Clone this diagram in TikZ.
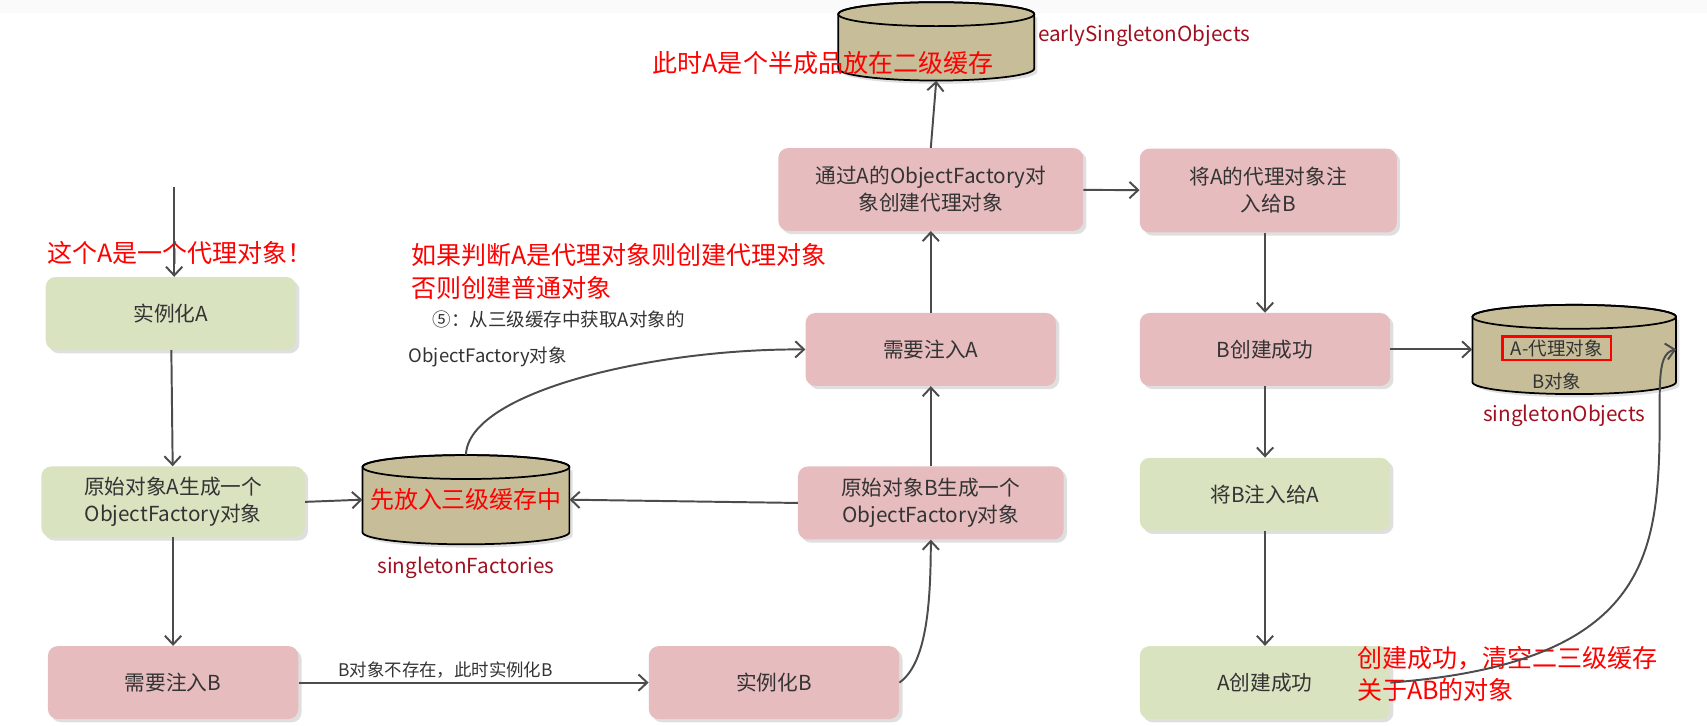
\documentclass[tikz,border=0pt]{standalone}
\usepackage{fontspec}
\setmainfont{Noto Sans CJK SC}
\usetikzlibrary{arrows.meta,shadows,calc}
\definecolor{gbox}{HTML}{D9E3C0}
\definecolor{pbox}{HTML}{E6BCBE}
\definecolor{cylc}{HTML}{C7BE99}
\definecolor{lbl}{HTML}{A01020}
\definecolor{txt}{HTML}{333333}
\tikzset{
 box/.style={rounded corners=9pt,minimum width=230pt,minimum height=67pt,align=center,font=\fontsize{19}{25}\selectfont,text=txt,
   drop shadow={opacity=0.25,shadow xshift=3pt,shadow yshift=-3pt}},
 gb/.style={box,fill=gbox},
 pb/.style={box,fill=pbox},
 arr/.style={draw=black!70,line width=1.8pt,-{Straight Barb[length=8pt,width=15pt]}},
 redt/.style={text=red,font=\fontsize{23}{30}\selectfont,anchor=west,align=left},
 lab/.style={text=lbl,font=\fontsize{19}{23}\selectfont}
}
\newcommand\mycyl[5]{%
 \pgfmathsetmacro\rx{#4/2}\pgfmathsetmacro\ry{11}%
 \pgfmathsetmacro\yt{#3+#5/2-\ry}\pgfmathsetmacro\yb{#3-#5/2+\ry}%
 \pgfmathsetmacro\xl{#2-\rx}\pgfmathsetmacro\xr{#2+\rx}%
 \fill[black!30,opacity=0.4] (\xl+3,\yt-3) -- (\xl+3,\yb-3) arc[start angle=180,end angle=360,x radius=\rx,y radius=\ry] -- (\xr+3,\yt-3) -- cycle;
 \draw[fill=cylc,line width=1.6pt] (\xl,\yt) -- (\xl,\yb) arc[start angle=180,end angle=360,x radius=\rx,y radius=\ry] -- (\xr,\yt) arc[start angle=0,end angle=180,x radius=\rx,y radius=\ry] -- cycle;
 \draw[line width=1.6pt] (#2,\yt) ellipse[x radius=\rx,y radius=\ry];
 \node[minimum width=#4 pt,minimum height=#5 pt,inner sep=0] (#1) at (#2,#3) {};
}
\begin{document}
\begin{tikzpicture}[x=1pt,y=1pt]
\useasboundingbox (0,0) rectangle (1568,-666);
\fill[black!2] (0,0) rectangle (1568,-12);
% boxes
\node[gb] (instA) at (157,-288) {实例化A};
\node[gb,minimum width=242pt,minimum height=65pt] (ofA) at (159,-461) {原始对象A生成一个\\ObjectFactory对象};
\node[pb] (needB) at (159,-627) {需要注入B};
\node[pb] (instB) at (711,-627) {实例化B};
\node[pb,minimum width=244pt] (ofB) at (855,-462) {原始对象B生成一个\\ObjectFactory对象};
\node[pb] (needA) at (855,-321) {需要注入A};
\node[pb,minimum width=280pt,minimum height=76pt] (viaA) at (855,-174) {通过A的ObjectFactory对\\象创建代理对象};
\node[pb,minimum width=236pt,minimum height=77pt] (injA) at (1165,-175) {将A的代理对象注\\入给B};
\node[pb] (Bok) at (1162,-321) {B创建成功};
\node[gb] (injB) at (1162,-454) {将B注入给A};
\node[gb] (Aok) at (1162,-627) {A创建成功};
% cylinders
\mycyl{sf}{428}{-459}{190}{82}
\mycyl{es}{860}{-38}{180}{72}
\mycyl{so}{1446}{-321}{187}{82}
\node[text=red,font=\fontsize{22}{26}\selectfont] at (sf) {先放入三级缓存中};
\node[lab,anchor=north] at (428,-508) {singletonFactories};
\node[lab,anchor=west] at (950,-33) {earlySingletonObjects};
\node[lab] at (1437,-382) {singletonObjects};
\node[font=\fontsize{17}{20}\selectfont,text=txt,draw=red,line width=2.2pt,inner sep=3pt,minimum width=100pt] (ap) at (1430,-320) {A-代理对象};
\node[font=\fontsize{17}{20}\selectfont,text=txt] at (1430,-350) {B对象};
\node[redt] at (596,-58) {此时A是个半成品放在二级缓存};
% texts
\node[redt] at (40,-232) {这个A是一个代理对象！};
\node[redt,anchor=north west] at (374,-220) {如果判断A是代理对象则创建代理对象\\否则创建普通对象};
\node[text=txt,font=\fontsize{17}{20}\selectfont,anchor=west] at (394,-293) {⑤：从三级缓存中获取A对象的};
\node[text=txt,font=\fontsize{17}{20}\selectfont,anchor=west] at (372,-328) {ObjectFactory对象};
\node[redt,anchor=north west] at (1243,-590) {创建成功，清空二三级缓存\\关于AB的对象};
% arrows
\coordinate (s0) at (160,-172);
\draw[arr] (s0) -- (instA.north -| s0);
\draw[arr] (instA) -- (ofA);
\draw[arr] (ofA) -- (needB);
\draw[arr] (ofA.east) -- (sf.west);
\draw[arr] (ofB.west) -- (sf.east);
\draw[arr] (needB) -- node[above,text=txt,font=\fontsize{16}{19}\selectfont,pos=0.42]{B对象不存在，此时实例化B} (instB);
\draw[arr] (instB.east) .. controls (850,-610) and (855,-560) .. (ofB.south);
\draw[arr] (ofB) -- (needA);
\draw[arr] (needA) -- (viaA);
\draw[arr] (viaA.north) -- (es.south);
\draw[arr] (viaA) -- (injA);
\draw[arr] (injA.south -| Bok) -- (Bok);
\draw[arr] (Bok) -- (so.west);
\draw[arr] (Bok) -- (injB);
\draw[arr] (injB) -- (Aok);
\draw[arr] (sf.north) .. controls (430,-360) and (600,-320) .. (needA.west);
\draw[arr] (Aok.east) .. controls (1500,-610) and (1520,-520) .. (1524,-420) .. controls (1526,-360) and (1520,-325) .. (so.east);
\end{tikzpicture}
\end{document}
